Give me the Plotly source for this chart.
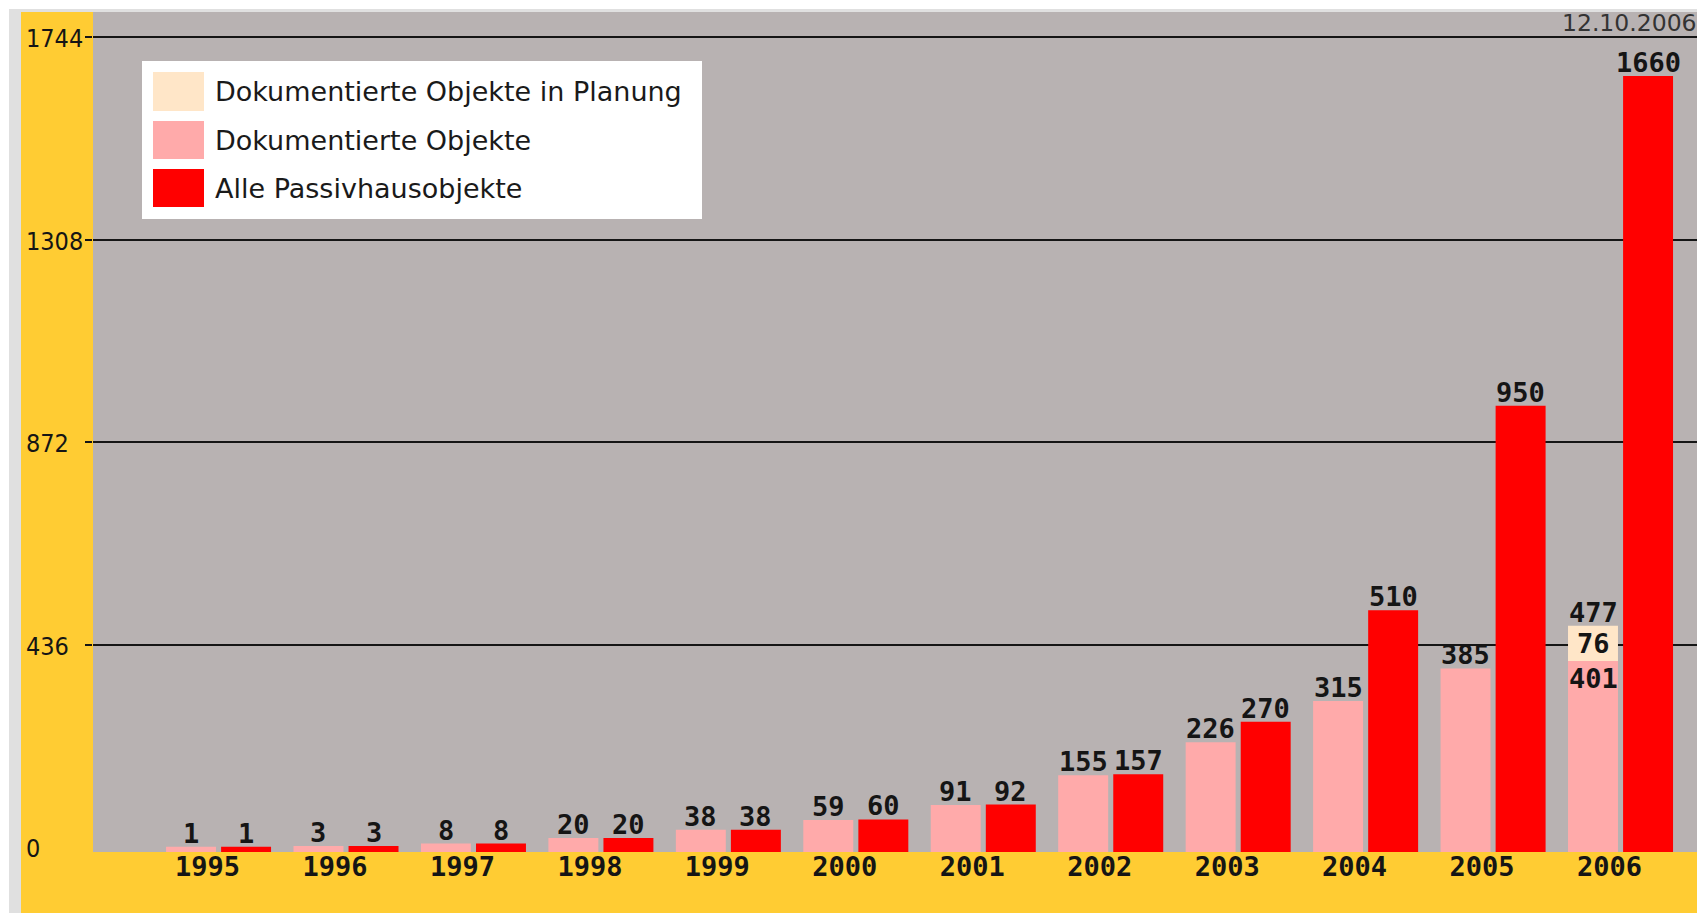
import plotly.graph_objects as go

# Passivhaus project counts per year
years = ["1995", "1996", "1997", "1998", "1999", "2000",
         "2001", "2002", "2003", "2004", "2005", "2006"]
documented = [1, 3, 8, 20, 38, 59, 91, 155, 226, 315, 385, 401]
planned = [0, 0, 0, 0, 0, 0, 0, 0, 0, 0, 0, 76]
all_objects = [1, 3, 8, 20, 38, 60, 92, 157, 270, 510, 950, 1660]
y_ticks = [0, 436, 872, 1308, 1744]
legend_names = ["Dokumentierte Objekte in Planung",
                "Dokumentierte Objekte",
                "Alle Passivhausobjekte"]
date_text = "12.10.2006"

# colours
YELLOW = "#FFCC33"
PLOT_GREY = "#B8B2B2"
PINK = "#FFAAAA"
RED = "#FF0000"
PEACH = "#FFE6C8"
INK = "#151515"

# page geometry (pixels)
W, H = 1697, 913
ML, MR, MT, MB = 93, 0, 12, 61
PW, PH = W - ML - MR, H - MT - MB


def fx(px):
    return (px - ML) / PW


def fy(py):
    return 1 - (py - MT) / PH


FLOOR = -10.1          # bars sink slightly into the lower frame
BAR_W = 0.392
PINK_OFF, RED_OFF = -0.412, 0.020
label_font = dict(family="DejaVu Sans Mono", size=27, color=INK, weight="bold")

fig = go.Figure()
fig.add_trace(go.Bar(
    x=years, base=FLOOR, y=[v - FLOOR for v in documented],
    width=BAR_W, offset=PINK_OFF, marker=dict(color=PINK, line=dict(width=0)),
    hoverinfo="skip", showlegend=False))
fig.add_trace(go.Bar(
    x=years, base=documented, y=planned,
    width=BAR_W, offset=PINK_OFF, marker=dict(color=PEACH, line=dict(width=0)),
    hoverinfo="skip", showlegend=False))
fig.add_trace(go.Bar(
    x=years, base=FLOOR, y=[v - FLOOR for v in all_objects],
    width=BAR_W, offset=RED_OFF, marker=dict(color=RED, line=dict(width=0)),
    hoverinfo="skip", showlegend=False))

annotations = []
pink_c = PINK_OFF + BAR_W / 2
red_c = RED_OFF + BAR_W / 2
for i, (d, p, a) in enumerate(zip(documented, planned, all_objects)):
    if p > 0:
        total = d + p
        annotations.append(dict(x=i + pink_c, y=total, text=str(total), yanchor="bottom",
                                yshift=-4, showarrow=False, font=label_font))
        annotations.append(dict(x=i + pink_c, y=d + p / 2, text=str(p), yanchor="middle",
                                showarrow=False, font=label_font))
        annotations.append(dict(x=i + pink_c, y=d, text=str(d), yanchor="top",
                                yshift=0, showarrow=False, font=label_font))
    else:
        annotations.append(dict(x=i + pink_c, y=d, text=str(d), yanchor="bottom",
                                yshift=-4, showarrow=False, font=label_font))
    annotations.append(dict(x=i + red_c, y=a, text=str(a), yanchor="bottom",
                            yshift=-4, showarrow=False, font=label_font))

# y tick labels, left aligned in the yellow margin
for v in y_ticks:
    annotations.append(dict(xref="paper", x=fx(24), xanchor="left", y=v, yanchor="middle",
                            yshift=-1.5, text=str(v), showarrow=False,
                            font=dict(family="DejaVu Sans Condensed, DejaVu Sans",
                                      size=25, color=INK)))

# date stamp, top right
annotations.append(dict(xref="paper", yref="paper", x=fx(1699), xanchor="right",
                        y=fy(23.5), yanchor="middle", text=date_text, showarrow=False,
                        font=dict(family="DejaVu Sans", size=23.5, color="#333333")))

shapes = [
    # outer white and light grey frame
    dict(type="rect", xref="paper", yref="paper", x0=fx(0), x1=fx(9), y0=fy(H), y1=fy(0),
         fillcolor="white", line=dict(width=0), layer="above"),
    dict(type="rect", xref="paper", yref="paper", x0=fx(0), x1=fx(W), y0=fy(9), y1=fy(0),
         fillcolor="white", line=dict(width=0), layer="above"),
    dict(type="rect", xref="paper", yref="paper", x0=fx(9), x1=fx(21), y0=fy(H), y1=fy(9),
         fillcolor="#E0E0E0", line=dict(width=0), layer="above"),
    dict(type="rect", xref="paper", yref="paper", x0=fx(9), x1=fx(W), y0=fy(12), y1=fy(9),
         fillcolor="#E0E0E0", line=dict(width=0), layer="above"),
    # legend box
    dict(type="rect", xref="paper", yref="paper", x0=fx(142), x1=fx(702), y0=fy(219),
         y1=fy(61), fillcolor="white", line=dict(width=0), layer="above"),
]
# legend drawn by hand (large swatches)
swatch_rows = [(72, 111), (121, 159), (169, 207)]
for (top, bot), col, name in zip(swatch_rows, [PEACH, PINK, RED], legend_names):
    shapes.append(dict(type="rect", xref="paper", yref="paper", x0=fx(153), x1=fx(204),
                       y0=fy(bot), y1=fy(top), fillcolor=col, line=dict(width=0),
                       layer="above"))
    annotations.append(dict(xref="paper", yref="paper", x=fx(213), xanchor="left",
                            y=fy((top + bot) / 2), yanchor="middle", text=name,
                            showarrow=False,
                            font=dict(family="DejaVu Sans", size=27, color="#1A1A1A")))

fig.update_layout(
    width=W, height=H,
    margin=dict(l=ML, r=MR, t=MT, b=MB, pad=0),
    paper_bgcolor=YELLOW, plot_bgcolor=PLOT_GREY,
    barmode="overlay", showlegend=False,
    shapes=shapes, annotations=annotations,
    xaxis=dict(type="category", range=[-0.985, 11.6], showgrid=False, zeroline=False,
               showline=False, ticks="", tickfont=dict(family="DejaVu Sans Mono", size=27,
                                                       color=INK, weight="bold"),
               ticklabelshift=-11, ticklabelstandoff=-4, fixedrange=True),
    yaxis=dict(range=[FLOOR, 1797.6], tickvals=y_ticks[1:], showticklabels=False,
               ticks="outside", ticklen=7, tickwidth=2, tickcolor=INK,
               showgrid=True, gridcolor=INK, gridwidth=2, zeroline=False,
               showline=False, fixedrange=True),
)

fig.write_html("out.html", config={"displayModeBar": False})
